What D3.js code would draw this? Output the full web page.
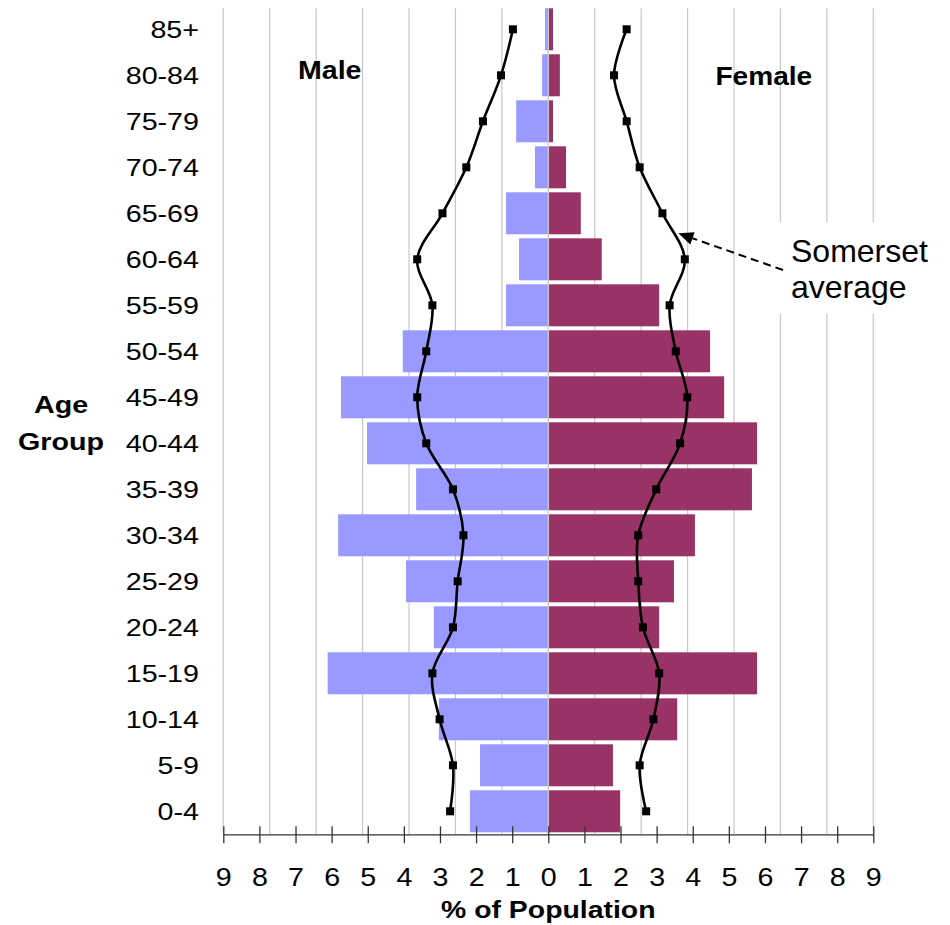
<!DOCTYPE html>
<html>
<head>
<meta charset="utf-8">
<script src="https://cdn.jsdelivr.net/npm/d3@7"></script>
<style>
  body { margin: 0; background: #fff; }
  svg { display: block; }
</style>
</head>
<body>
<svg></svg>
<script>
// age groups, top to bottom
const ageGroups = ["85+", "80-84", "75-79", "70-74", "65-69", "60-64", "55-59", "50-54", "45-49",
    "40-44", "35-39", "30-34", "25-29", "20-24", "15-19", "10-14", "5-9", "0-4"];
// % of population
const maleValues = [0.09, 0.17, 0.89, 0.37, 1.17, 0.81, 1.17, 4.03, 5.74,
    5.02, 3.66, 5.82, 3.94, 3.17, 6.11, 3.03, 1.89, 2.17];
const femaleValues = [0.13, 0.32, 0.13, 0.49, 0.90, 1.48, 3.07, 4.48, 4.87,
    5.78, 5.64, 4.06, 3.48, 3.07, 5.78, 3.57, 1.79, 1.99];
// Somerset average
const maleAverage = [0.98, 1.31, 1.81, 2.27, 2.93, 3.63, 3.21, 3.38, 3.63,
    3.38, 2.64, 2.35, 2.51, 2.64, 3.21, 3.01, 2.64, 2.72];
const femaleAverage = [2.17, 1.82, 2.17, 2.53, 3.16, 3.78, 3.36, 3.53, 3.85,
    3.65, 2.99, 2.49, 2.49, 2.62, 3.07, 2.91, 2.53, 2.71];
const axisTicks = [-9, -8, -7, -6, -5, -4, -3, -2, -1, 0, 1, 2, 3, 4, 5, 6, 7, 8, 9];
const gridTicks = [-7, -6, -5, -4, -3, -2, -1, 0, 1, 2, 3, 4, 5, 6, 7];

const width = 950;
const height = 925;
const plotLeft = 223.3, plotRight = 873.3;
const plotTop = 6.3, plotBottom = 834.3;
const font = "'Liberation Sans', Arial, sans-serif";

let svg = d3.select("svg")
    .attr("width", width)
    .attr("height", height);

// shown axis and (unlabelled) gridline axis do not share spacing in the original
let x = d3.scaleLinear().domain([-9, 9]).range([plotLeft, plotRight]);
let gridX = d3.scaleLinear().domain([-7, 7]).range([plotLeft, plotRight]);
let y = d3.scaleBand()
    .domain(ageGroups)
    .range([plotTop, plotBottom])
    .paddingInner(0.087)
    .paddingOuter(0.0435);
let mid = d => y(d) + y.bandwidth() / 2;

function label(txt, tx, ty, size, weight, anchor, sx) {
    return svg.append("text")
        .attr("transform", `translate(${tx},${ty}) scale(${sx},1)`)
        .attr("text-anchor", anchor)
        .style("font-family", font)
        .style("font-size", size + "px")
        .style("font-weight", weight)
        .text(txt);
}

// grid
svg.append("g")
    .selectAll("line")
    .data(gridTicks)
    .enter()
    .append("line")
    .attr("x1", d => gridX(d))
    .attr("x2", d => gridX(d))
    .attr("y1", 8.3)
    .attr("y2", plotBottom)
    .attr("stroke", "#c8c8c8")
    .attr("stroke-width", 1.2);

// titles inside plot
label("Male", 329.7, 79, 25.5, "bold", "middle", 1.12);
label("Female", 763.8, 85, 25.5, "bold", "middle", 1.1);

// bars
svg.append("g")
    .selectAll("rect")
    .data(ageGroups)
    .enter()
    .append("rect")
    .attr("x", (d, i) => x(-maleValues[i]))
    .attr("y", d => y(d))
    .attr("width", (d, i) => x(0) - x(-maleValues[i]))
    .attr("height", y.bandwidth())
    .attr("fill", "#9999ff");

svg.append("g")
    .selectAll("rect")
    .data(ageGroups)
    .enter()
    .append("rect")
    .attr("x", x(0))
    .attr("y", d => y(d))
    .attr("width", (d, i) => x(femaleValues[i]) - x(0))
    .attr("height", y.bandwidth())
    .attr("fill", "#993366");

// zero gridline shows through between the halves
svg.append("line")
    .attr("x1", gridX(0)).attr("x2", gridX(0))
    .attr("y1", 8.3).attr("y2", plotBottom)
    .attr("stroke", "#d0d0d0")
    .attr("stroke-width", 1.2);

// annotation box (covers gridlines)
svg.append("rect")
    .attr("x", 762).attr("y", 222)
    .attr("width", 180).attr("height", 92)
    .attr("fill", "#fff");

// Somerset average lines
let line = d3.line()
    .x(d => d[0])
    .y(d => d[1])
    .curve(d3.curveCatmullRom.alpha(0.5));

let malePts = ageGroups.map((d, i) => [x(-maleAverage[i]), mid(d)]);
let femalePts = ageGroups.map((d, i) => [x(femaleAverage[i]), mid(d)]);

[malePts, femalePts].forEach(pts => {
    svg.append("path")
        .attr("d", line(pts))
        .attr("fill", "none")
        .attr("stroke", "#000")
        .attr("stroke-width", 2.6);
    svg.append("g")
        .selectAll("rect")
        .data(pts)
        .enter()
        .append("rect")
        .attr("x", d => d[0] - 4)
        .attr("y", d => d[1] - 4)
        .attr("width", 8)
        .attr("height", 8)
        .attr("fill", "#000");
});

// axis with ticks crossing the line
let axis = svg.append("g")
    .attr("transform", `translate(0, ${plotBottom})`)
    .call(d3.axisBottom(x).tickValues(axisTicks).tickSizeOuter(0).tickFormat(d => Math.abs(d)));
axis.select(".domain").attr("stroke", "#333").attr("stroke-width", 1.3);
axis.selectAll(".tick line")
    .attr("y1", -8)
    .attr("y2", 9)
    .attr("stroke", "#333")
    .attr("stroke-width", 1.3);
axis.selectAll(".tick text")
    .attr("y", 51.4)
    .attr("dy", null)
    .attr("fill", "#000")
    .attr("transform", "scale(1.1,1)")
    .style("font-family", font)
    .style("font-size", "26px");

label("% of Population", x(0), 918.3, 24.7, "bold", "middle", 1.15);

// category labels
svg.append("g")
    .selectAll("text")
    .data(ageGroups)
    .enter()
    .append("text")
    .attr("transform", d => `translate(199, ${mid(d) + 9}) scale(1.17,1)`)
    .attr("text-anchor", "end")
    .style("font-family", font)
    .style("font-size", "24.5px")
    .text(d => d);

label("Age", 61, 412.7, 24.5, "bold", "middle", 1.17);
label("Group", 61, 450, 24.5, "bold", "middle", 1.17);

// annotation
label("Somerset", 791, 261.7, 32, "normal", "start", 1);
label("average", 791, 297.7, 32, "normal", "start", 1);

let tipX = x(3.6), tipY = y("60-64") - 5;
let fromX = 783, fromY = 270;
let len = Math.hypot(tipX - fromX, tipY - fromY);
let ux = (tipX - fromX) / len, uy = (tipY - fromY) / len;
let headLen = 15, headW = 6.5;
let baseX = tipX - ux * headLen, baseY = tipY - uy * headLen;

svg.append("line")
    .attr("x1", fromX).attr("y1", fromY)
    .attr("x2", baseX).attr("y2", baseY)
    .attr("stroke", "#000")
    .attr("stroke-width", 2)
    .attr("stroke-dasharray", "8,5");
svg.append("path")
    .attr("d", d3.line()([
        [tipX, tipY],
        [baseX - uy * headW, baseY + ux * headW],
        [baseX + uy * headW, baseY - ux * headW]
    ]) + "Z")
    .attr("fill", "#000");
</script>
</body>
</html>
